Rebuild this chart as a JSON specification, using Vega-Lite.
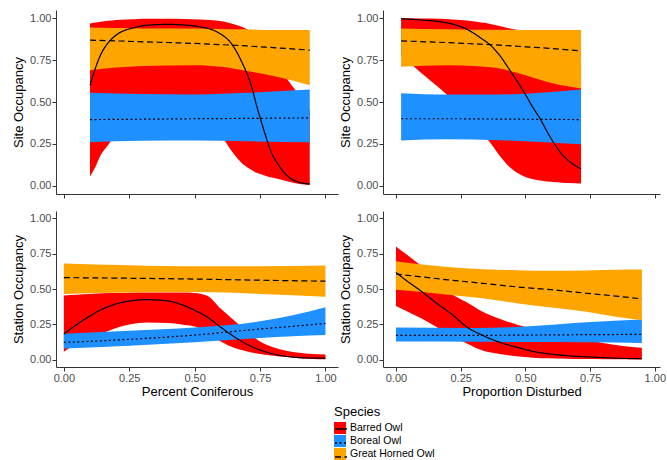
{
  "$schema": "https://vega.github.io/schema/vega-lite/v6.json",
  "padding": {"left": 12, "top": 10, "right": 5, "bottom": 5},
  "background": "white",
  "columns": 2,
  "spacing": {"row": 17, "column": 45},
  "bounds": "flush",
  "align": "each",
  "datasets": {
    "sc": [
      {"sp":"Barred Owl","x":0.10,"fit":0.60,"lo":0.055,"hi":0.97},
      {"sp":"Barred Owl","x":0.12,"fit":0.70,"lo":0.11,"hi":0.975},
      {"sp":"Barred Owl","x":0.14,"fit":0.78,"lo":0.18,"hi":0.98},
      {"sp":"Barred Owl","x":0.17,"fit":0.855,"lo":0.245,"hi":0.985},
      {"sp":"Barred Owl","x":0.20,"fit":0.90,"lo":0.31,"hi":0.99},
      {"sp":"Barred Owl","x":0.27,"fit":0.945,"lo":0.41,"hi":0.995},
      {"sp":"Barred Owl","x":0.33,"fit":0.96,"lo":0.46,"hi":0.997},
      {"sp":"Barred Owl","x":0.40,"fit":0.964,"lo":0.48,"hi":0.997},
      {"sp":"Barred Owl","x":0.46,"fit":0.96,"lo":0.47,"hi":0.996},
      {"sp":"Barred Owl","x":0.52,"fit":0.95,"lo":0.43,"hi":0.993},
      {"sp":"Barred Owl","x":0.59,"fit":0.915,"lo":0.33,"hi":0.985},
      {"sp":"Barred Owl","x":0.64,"fit":0.85,"lo":0.21,"hi":0.97},
      {"sp":"Barred Owl","x":0.68,"fit":0.74,"lo":0.135,"hi":0.95},
      {"sp":"Barred Owl","x":0.716,"fit":0.60,"lo":0.095,"hi":0.92},
      {"sp":"Barred Owl","x":0.74,"fit":0.46,"lo":0.075,"hi":0.89},
      {"sp":"Barred Owl","x":0.767,"fit":0.32,"lo":0.06,"hi":0.84},
      {"sp":"Barred Owl","x":0.79,"fit":0.21,"lo":0.05,"hi":0.79},
      {"sp":"Barred Owl","x":0.82,"fit":0.125,"lo":0.04,"hi":0.72},
      {"sp":"Barred Owl","x":0.857,"fit":0.055,"lo":0.025,"hi":0.63},
      {"sp":"Barred Owl","x":0.895,"fit":0.022,"lo":0.012,"hi":0.55},
      {"sp":"Barred Owl","x":0.94,"fit":0.01,"lo":0.004,"hi":0.45},
      {"sp":"Boreal Owl","x":0.10,"fit":0.395,"lo":0.26,"hi":0.555},
      {"sp":"Boreal Owl","x":0.30,"fit":0.397,"lo":0.268,"hi":0.548},
      {"sp":"Boreal Owl","x":0.50,"fit":0.40,"lo":0.27,"hi":0.545},
      {"sp":"Boreal Owl","x":0.70,"fit":0.402,"lo":0.265,"hi":0.555},
      {"sp":"Boreal Owl","x":0.94,"fit":0.405,"lo":0.26,"hi":0.575},
      {"sp":"Great Horned Owl","x":0.10,"fit":0.87,"lo":0.69,"hi":0.945},
      {"sp":"Great Horned Owl","x":0.30,"fit":0.86,"lo":0.715,"hi":0.94},
      {"sp":"Great Horned Owl","x":0.50,"fit":0.85,"lo":0.72,"hi":0.94},
      {"sp":"Great Horned Owl","x":0.60,"fit":0.843,"lo":0.71,"hi":0.937},
      {"sp":"Great Horned Owl","x":0.70,"fit":0.835,"lo":0.685,"hi":0.935},
      {"sp":"Great Horned Owl","x":0.80,"fit":0.825,"lo":0.655,"hi":0.93},
      {"sp":"Great Horned Owl","x":0.87,"fit":0.818,"lo":0.63,"hi":0.93},
      {"sp":"Great Horned Owl","x":0.94,"fit":0.81,"lo":0.60,"hi":0.93}
    ],
    "sd": [
      {"sp":"Barred Owl","x":0.02,"fit":0.998,"lo":0.78,"hi":1.0},
      {"sp":"Barred Owl","x":0.10,"fit":0.99,"lo":0.67,"hi":0.999},
      {"sp":"Barred Owl","x":0.17,"fit":0.98,"lo":0.58,"hi":0.997},
      {"sp":"Barred Owl","x":0.22,"fit":0.965,"lo":0.51,"hi":0.993},
      {"sp":"Barred Owl","x":0.28,"fit":0.93,"lo":0.41,"hi":0.985},
      {"sp":"Barred Owl","x":0.33,"fit":0.88,"lo":0.32,"hi":0.975},
      {"sp":"Barred Owl","x":0.365,"fit":0.84,"lo":0.255,"hi":0.967},
      {"sp":"Barred Owl","x":0.40,"fit":0.78,"lo":0.18,"hi":0.955},
      {"sp":"Barred Owl","x":0.44,"fit":0.69,"lo":0.11,"hi":0.94},
      {"sp":"Barred Owl","x":0.47,"fit":0.62,"lo":0.075,"hi":0.93},
      {"sp":"Barred Owl","x":0.50,"fit":0.545,"lo":0.052,"hi":0.915},
      {"sp":"Barred Owl","x":0.53,"fit":0.465,"lo":0.038,"hi":0.895},
      {"sp":"Barred Owl","x":0.557,"fit":0.40,"lo":0.03,"hi":0.875},
      {"sp":"Barred Owl","x":0.585,"fit":0.32,"lo":0.025,"hi":0.85},
      {"sp":"Barred Owl","x":0.61,"fit":0.255,"lo":0.021,"hi":0.83},
      {"sp":"Barred Owl","x":0.64,"fit":0.19,"lo":0.018,"hi":0.80},
      {"sp":"Barred Owl","x":0.67,"fit":0.145,"lo":0.016,"hi":0.77},
      {"sp":"Barred Owl","x":0.715,"fit":0.10,"lo":0.013,"hi":0.72},
      {"sp":"Boreal Owl","x":0.02,"fit":0.40,"lo":0.27,"hi":0.553},
      {"sp":"Boreal Owl","x":0.20,"fit":0.40,"lo":0.277,"hi":0.545},
      {"sp":"Boreal Owl","x":0.40,"fit":0.398,"lo":0.272,"hi":0.545},
      {"sp":"Boreal Owl","x":0.60,"fit":0.396,"lo":0.258,"hi":0.56},
      {"sp":"Boreal Owl","x":0.715,"fit":0.395,"lo":0.247,"hi":0.575},
      {"sp":"Great Horned Owl","x":0.02,"fit":0.865,"lo":0.71,"hi":0.94},
      {"sp":"Great Horned Owl","x":0.20,"fit":0.855,"lo":0.72,"hi":0.935},
      {"sp":"Great Horned Owl","x":0.30,"fit":0.848,"lo":0.715,"hi":0.932},
      {"sp":"Great Horned Owl","x":0.40,"fit":0.84,"lo":0.70,"hi":0.932},
      {"sp":"Great Horned Owl","x":0.50,"fit":0.83,"lo":0.66,"hi":0.93},
      {"sp":"Great Horned Owl","x":0.60,"fit":0.82,"lo":0.613,"hi":0.93},
      {"sp":"Great Horned Owl","x":0.715,"fit":0.805,"lo":0.58,"hi":0.93}
    ],
    "tc": [
      {"sp":"Barred Owl","x":0.00,"fit":0.183,"lo":0.058,"hi":0.455},
      {"sp":"Barred Owl","x":0.05,"fit":0.25,"lo":0.12,"hi":0.46},
      {"sp":"Barred Owl","x":0.10,"fit":0.31,"lo":0.165,"hi":0.465},
      {"sp":"Barred Owl","x":0.15,"fit":0.36,"lo":0.19,"hi":0.47},
      {"sp":"Barred Owl","x":0.20,"fit":0.395,"lo":0.225,"hi":0.472},
      {"sp":"Barred Owl","x":0.25,"fit":0.415,"lo":0.25,"hi":0.474},
      {"sp":"Barred Owl","x":0.32,"fit":0.425,"lo":0.264,"hi":0.475},
      {"sp":"Barred Owl","x":0.40,"fit":0.415,"lo":0.26,"hi":0.475},
      {"sp":"Barred Owl","x":0.45,"fit":0.39,"lo":0.25,"hi":0.475},
      {"sp":"Barred Owl","x":0.50,"fit":0.35,"lo":0.235,"hi":0.472},
      {"sp":"Barred Owl","x":0.55,"fit":0.30,"lo":0.195,"hi":0.45},
      {"sp":"Barred Owl","x":0.60,"fit":0.23,"lo":0.13,"hi":0.36},
      {"sp":"Barred Owl","x":0.65,"fit":0.165,"lo":0.085,"hi":0.28},
      {"sp":"Barred Owl","x":0.70,"fit":0.11,"lo":0.06,"hi":0.20},
      {"sp":"Barred Owl","x":0.75,"fit":0.07,"lo":0.042,"hi":0.13},
      {"sp":"Barred Owl","x":0.80,"fit":0.042,"lo":0.03,"hi":0.09},
      {"sp":"Barred Owl","x":0.85,"fit":0.025,"lo":0.02,"hi":0.065},
      {"sp":"Barred Owl","x":0.90,"fit":0.016,"lo":0.012,"hi":0.05},
      {"sp":"Barred Owl","x":0.95,"fit":0.013,"lo":0.007,"hi":0.042},
      {"sp":"Barred Owl","x":1.00,"fit":0.012,"lo":0.004,"hi":0.038},
      {"sp":"Boreal Owl","x":0.00,"fit":0.123,"lo":0.08,"hi":0.185},
      {"sp":"Boreal Owl","x":0.25,"fit":0.145,"lo":0.10,"hi":0.205},
      {"sp":"Boreal Owl","x":0.50,"fit":0.175,"lo":0.125,"hi":0.228},
      {"sp":"Boreal Owl","x":0.75,"fit":0.218,"lo":0.155,"hi":0.272},
      {"sp":"Boreal Owl","x":0.875,"fit":0.237,"lo":0.166,"hi":0.315},
      {"sp":"Boreal Owl","x":1.00,"fit":0.257,"lo":0.175,"hi":0.372},
      {"sp":"Great Horned Owl","x":0.00,"fit":0.58,"lo":0.465,"hi":0.68},
      {"sp":"Great Horned Owl","x":0.25,"fit":0.576,"lo":0.475,"hi":0.668},
      {"sp":"Great Horned Owl","x":0.50,"fit":0.57,"lo":0.478,"hi":0.66},
      {"sp":"Great Horned Owl","x":0.75,"fit":0.562,"lo":0.465,"hi":0.66},
      {"sp":"Great Horned Owl","x":1.00,"fit":0.555,"lo":0.445,"hi":0.665}
    ],
    "td": [
      {"sp":"Barred Owl","x":0.00,"fit":0.617,"lo":0.38,"hi":0.80},
      {"sp":"Barred Owl","x":0.04,"fit":0.56,"lo":0.345,"hi":0.745},
      {"sp":"Barred Owl","x":0.09,"fit":0.495,"lo":0.30,"hi":0.675},
      {"sp":"Barred Owl","x":0.157,"fit":0.40,"lo":0.232,"hi":0.57},
      {"sp":"Barred Owl","x":0.22,"fit":0.316,"lo":0.165,"hi":0.46},
      {"sp":"Barred Owl","x":0.27,"fit":0.237,"lo":0.12,"hi":0.41},
      {"sp":"Barred Owl","x":0.335,"fit":0.173,"lo":0.066,"hi":0.34},
      {"sp":"Barred Owl","x":0.40,"fit":0.125,"lo":0.042,"hi":0.29},
      {"sp":"Barred Owl","x":0.465,"fit":0.09,"lo":0.025,"hi":0.25},
      {"sp":"Barred Owl","x":0.53,"fit":0.06,"lo":0.016,"hi":0.22},
      {"sp":"Barred Owl","x":0.59,"fit":0.043,"lo":0.011,"hi":0.195},
      {"sp":"Barred Owl","x":0.66,"fit":0.03,"lo":0.008,"hi":0.165},
      {"sp":"Barred Owl","x":0.736,"fit":0.022,"lo":0.006,"hi":0.14},
      {"sp":"Barred Owl","x":0.80,"fit":0.016,"lo":0.005,"hi":0.12},
      {"sp":"Barred Owl","x":0.87,"fit":0.011,"lo":0.004,"hi":0.10},
      {"sp":"Barred Owl","x":0.95,"fit":0.008,"lo":0.003,"hi":0.085},
      {"sp":"Boreal Owl","x":0.00,"fit":0.173,"lo":0.13,"hi":0.228},
      {"sp":"Boreal Owl","x":0.30,"fit":0.173,"lo":0.128,"hi":0.225},
      {"sp":"Boreal Owl","x":0.50,"fit":0.175,"lo":0.126,"hi":0.235},
      {"sp":"Boreal Owl","x":0.736,"fit":0.178,"lo":0.125,"hi":0.265},
      {"sp":"Boreal Owl","x":0.95,"fit":0.18,"lo":0.12,"hi":0.285},
      {"sp":"Great Horned Owl","x":0.00,"fit":0.606,"lo":0.494,"hi":0.696},
      {"sp":"Great Horned Owl","x":0.20,"fit":0.565,"lo":0.46,"hi":0.655},
      {"sp":"Great Horned Owl","x":0.335,"fit":0.54,"lo":0.435,"hi":0.64},
      {"sp":"Great Horned Owl","x":0.465,"fit":0.515,"lo":0.40,"hi":0.632},
      {"sp":"Great Horned Owl","x":0.60,"fit":0.495,"lo":0.37,"hi":0.628},
      {"sp":"Great Horned Owl","x":0.736,"fit":0.47,"lo":0.34,"hi":0.63},
      {"sp":"Great Horned Owl","x":0.85,"fit":0.45,"lo":0.305,"hi":0.635},
      {"sp":"Great Horned Owl","x":0.95,"fit":0.43,"lo":0.28,"hi":0.637}
    ]
  },
  "concat": [
    {
      "width": 282, "height": 184,
      "data": {"name": "sc"},
      "encoding": {
        "x": {"field": "x", "type": "quantitative", "scale": {"domain": [-0.03, 1.048], "nice": false, "zero": false},
              "axis": {"values": [0, 0.25, 0.5, 0.75, 1], "format": ".2f", "labels": false, "title": null}}
      },
      "layer": [
        {"mark": {"type": "area", "interpolate": "monotone", "opacity": 1},
         "encoding": {
           "y": {"field": "lo", "type": "quantitative", "stack": null, "scale": {"domain": [-0.05, 1.05], "nice": false, "zero": false},
                 "axis": {"values": [0, 0.25, 0.5, 0.75, 1], "format": ".2f", "title": "Site Occupancy"}},
           "y2": {"field": "hi"},
           "color": {"field": "sp", "type": "nominal",
                     "scale": {"range": ["#FF0000", "#1E90FF", "#FFA500"]},
                     "legend": {"orient": "none", "legendX": 278, "legendY": 396, "title": "Species", "symbolType": "square", "symbolSize": 144, "symbolStrokeWidth": 0, "symbolOpacity": 1, "direction": "vertical"}}
         }},
        {"mark": {"type": "line", "interpolate": "monotone", "color": "black", "strokeWidth": 1.2},
         "encoding": {
           "y": {"field": "fit", "type": "quantitative", "scale": {"domain": [-0.05, 1.05], "nice": false, "zero": false},
                 "axis": {"values": [0, 0.25, 0.5, 0.75, 1], "format": ".2f", "title": "Site Occupancy"}},
           "strokeDash": {"field": "sp", "type": "nominal",
                          "scale": {"domain": ["Barred Owl", "Boreal Owl", "Great Horned Owl"], "range": [[1, 0], [2, 2.5], [6, 3.5]]},
                          "legend": {"orient": "none", "legendX": 278, "legendY": 412, "title": null, "labelExpr": "''", "symbolType": "stroke", "symbolSize": 144, "symbolStrokeColor": "black", "symbolStrokeWidth": 1.3, "direction": "vertical"}}
         }}
      ]
    },
    {
      "width": 277, "height": 184,
      "data": {"name": "sd"},
      "encoding": {
        "x": {"field": "x", "type": "quantitative", "scale": {"domain": [-0.05, 1.02], "nice": false, "zero": false},
              "axis": {"values": [0, 0.25, 0.5, 0.75, 1], "format": ".2f", "labels": false, "title": null}}
      },
      "layer": [
        {"mark": {"type": "area", "interpolate": "monotone", "opacity": 1},
         "encoding": {
           "y": {"field": "lo", "type": "quantitative", "stack": null, "scale": {"domain": [-0.05, 1.05], "nice": false, "zero": false},
                 "axis": {"values": [0, 0.25, 0.5, 0.75, 1], "format": ".2f", "title": "Site Occupancy"}},
           "y2": {"field": "hi"},
           "color": {"field": "sp", "type": "nominal"}
         }},
        {"mark": {"type": "line", "interpolate": "monotone", "color": "black", "strokeWidth": 1.2},
         "encoding": {
           "y": {"field": "fit", "type": "quantitative", "scale": {"domain": [-0.05, 1.05], "nice": false, "zero": false},
                 "axis": {"values": [0, 0.25, 0.5, 0.75, 1], "format": ".2f", "title": "Site Occupancy"}},
           "strokeDash": {"field": "sp", "type": "nominal"}
         }}
      ]
    },
    {
      "width": 282, "height": 156,
      "data": {"name": "tc"},
      "encoding": {
        "x": {"field": "x", "type": "quantitative", "scale": {"domain": [-0.03, 1.048], "nice": false, "zero": false},
              "axis": {"values": [0, 0.25, 0.5, 0.75, 1], "format": ".2f", "title": "Percent Coniferous"}}
      },
      "layer": [
        {"mark": {"type": "area", "interpolate": "monotone", "opacity": 1},
         "encoding": {
           "y": {"field": "lo", "type": "quantitative", "stack": null, "scale": {"domain": [-0.05, 1.05], "nice": false, "zero": false},
                 "axis": {"values": [0, 0.25, 0.5, 0.75, 1], "format": ".2f", "title": "Station Occupancy"}},
           "y2": {"field": "hi"},
           "color": {"field": "sp", "type": "nominal"}
         }},
        {"mark": {"type": "line", "interpolate": "monotone", "color": "black", "strokeWidth": 1.2},
         "encoding": {
           "y": {"field": "fit", "type": "quantitative", "scale": {"domain": [-0.05, 1.05], "nice": false, "zero": false},
                 "axis": {"values": [0, 0.25, 0.5, 0.75, 1], "format": ".2f", "title": "Station Occupancy"}},
           "strokeDash": {"field": "sp", "type": "nominal"}
         }}
      ]
    },
    {
      "width": 277, "height": 156,
      "data": {"name": "td"},
      "encoding": {
        "x": {"field": "x", "type": "quantitative", "scale": {"domain": [-0.05, 1.02], "nice": false, "zero": false},
              "axis": {"values": [0, 0.25, 0.5, 0.75, 1], "format": ".2f", "title": "Proportion Disturbed"}}
      },
      "layer": [
        {"mark": {"type": "area", "interpolate": "monotone", "opacity": 1},
         "encoding": {
           "y": {"field": "lo", "type": "quantitative", "stack": null, "scale": {"domain": [-0.05, 1.05], "nice": false, "zero": false},
                 "axis": {"values": [0, 0.25, 0.5, 0.75, 1], "format": ".2f", "title": "Station Occupancy"}},
           "y2": {"field": "hi"},
           "color": {"field": "sp", "type": "nominal"}
         }},
        {"mark": {"type": "line", "interpolate": "monotone", "color": "black", "strokeWidth": 1.2},
         "encoding": {
           "y": {"field": "fit", "type": "quantitative", "scale": {"domain": [-0.05, 1.05], "nice": false, "zero": false},
                 "axis": {"values": [0, 0.25, 0.5, 0.75, 1], "format": ".2f", "title": "Station Occupancy"}},
           "strokeDash": {"field": "sp", "type": "nominal"}
         }}
      ]
    }
  ],
  "config": {
    "font": "Liberation Sans",
    "view": {"stroke": null},
    "axis": {"grid": false, "domainColor": "#333333", "domainWidth": 1, "tickColor": "#333333", "tickWidth": 1, "tickSize": 4,
             "labelFont": "Liberation Sans", "labelFontSize": 11, "labelColor": "#4D4D4D", "labelPadding": 1, "labelFlush": false,
             "titleFont": "Liberation Sans", "titleFontSize": 13, "titleFontWeight": "normal", "titleColor": "#000000"},
    "axisX": {"titlePadding": 2},
    "axisY": {"titlePadding": 4},
    "legend": {"padding": 0, "titleFont": "Liberation Sans", "titleFontSize": 13, "titleFontWeight": "normal", "titleColor": "#000000", "titlePadding": 3,
               "labelFont": "Liberation Sans", "labelFontSize": 10.5, "labelColor": "#000000", "labelOffset": 4, "rowPadding": 1}
  }
}
